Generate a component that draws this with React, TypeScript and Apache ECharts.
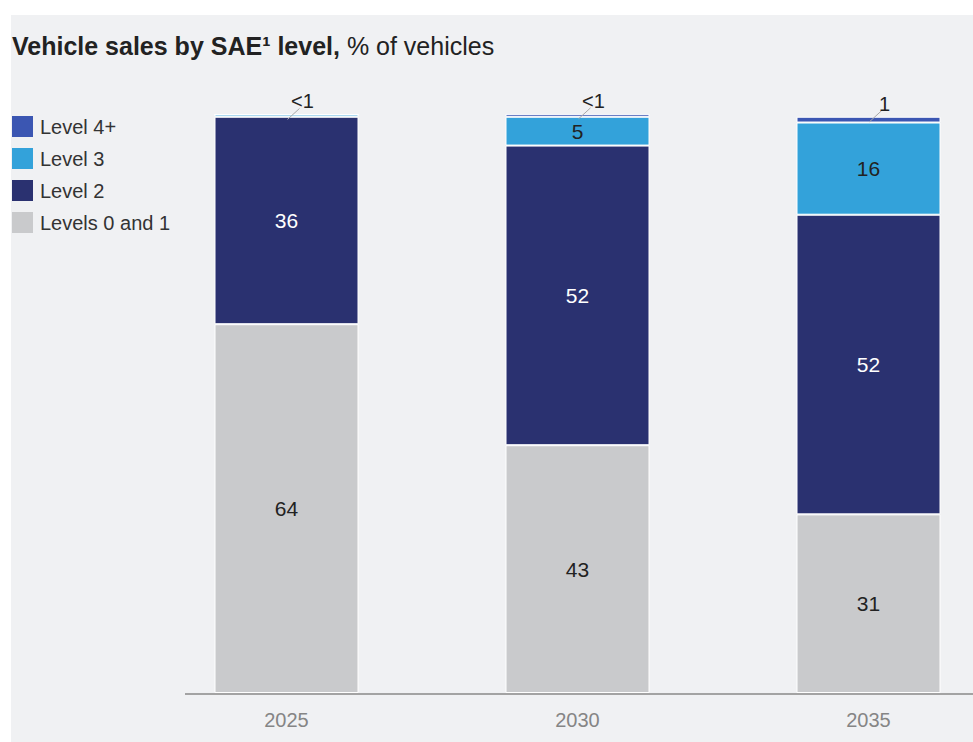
import React, { useEffect, useRef } from "react";
import * as echarts from "echarts";

const years = ["2025", "2030", "2035"];
const levels01 = [64, 43, 31];
const level2 = [36, 52, 52];
const level3 = [0.4, 5, 16];
const level4 = [0, 0.5, 1];
const topLabels = ["<1", "<1", "1"];

const seriesNames = ["Levels 0 and 1", "Level 2", "Level 3", "Level 4+"];
const colors = ["#c9cacc", "#2a3170", "#33a2da", "#3b56b2"];
const labelColors = ["#222222", "#ffffff", "#222222", "#222222"];

const FONT = "'Liberation Sans', Arial, sans-serif";

export default function App() {
  const ref = useRef<HTMLDivElement>(null);
  useEffect(() => {
    if (!ref.current) return;
    const chart = echarts.init(ref.current, undefined, { renderer: "svg" });
    const dataSets = [levels01, level2, level3, level4];
    const totals = years.map((_, i) => dataSets.reduce((s, d) => s + d[i], 0));

    const barSeries = dataSets.map((d, si) => ({
      name: seriesNames[si],
      type: "bar",
      stack: "total",
      barWidth: 144,
      data: d,
      itemStyle: { color: colors[si], borderColor: "#ffffff", borderWidth: 1 },
      label: {
        show: true,
        position: "inside",
        fontFamily: FONT,
        fontSize: 21,
        color: labelColors[si],
        formatter: (p: any) => (p.value >= 2 ? String(Math.round(p.value)) : ""),
      },
      emphasis: { disabled: true },
    }));

    const annotation = {
      type: "custom",
      name: "annot",
      data: years.map((_, i) => [i, totals[i], topLabels[i]]),
      encode: { x: 0, y: 1 },
      z: 10,
      renderItem: (params: any, api: any) => {
        const idx = params.dataIndex;
        const pt = api.coord([api.value(0), api.value(1)]);
        const x0 = pt[0] + 1;
        const y0 = pt[1] + 5;
        return {
          type: "group",
          children: [
            {
              type: "line",
              shape: { x1: x0, y1: y0, x2: x0 + 12, y2: y0 - 11 },
              style: { stroke: "#a8a8a8", lineWidth: 1 },
            },
            {
              type: "text",
              x: x0 + 15,
              y: y0 - 8,
              style: {
                text: topLabels[idx],
                fontFamily: FONT,
                fontSize: 20,
                fill: "#222222",
                align: "center",
                verticalAlign: "bottom",
              },
            },
          ],
        };
      },
    };

    chart.setOption({
      animation: false,
      backgroundColor: "#ffffff",
      graphic: [
        {
          type: "rect",
          shape: { x: 11, y: 15, width: 1100, height: 727 },
          style: { fill: "#f0f1f3" },
          z: -10,
          silent: true,
        },
        {
          type: "line",
          shape: { x1: 185, y1: 694, x2: 1100, y2: 694 },
          style: { stroke: "#a3a3a3", lineWidth: 2 },
          z: 5,
          silent: true,
        },
      ],
      title: {
        left: 7,
        top: 28,
        text: "{b|Vehicle sales by SAE¹ level,}{r| % of vehicles}",
        textStyle: {
          rich: {
            b: { fontFamily: FONT, fontSize: 25, fontWeight: "bold", color: "#222222" },
            r: { fontFamily: FONT, fontSize: 25, fontWeight: "normal", color: "#222222" },
          },
        },
      },
      legend: {
        orient: "vertical",
        left: 7,
        top: 111,
        itemWidth: 21,
        itemHeight: 21,
        itemGap: 11,
        icon: "rect",
        selectedMode: false,
        itemStyle: { borderWidth: 0 },
        data: ["Level 4+", "Level 3", "Level 2", "Levels 0 and 1"],
        textStyle: {
          fontFamily: FONT,
          fontSize: 20,
          lineHeight: 21,
          color: "#333333",
          padding: [0, 0, 0, 2],
        },
      },
      grid: { left: 141, width: 873, top: 111, height: 582 },
      xAxis: {
        type: "category",
        data: years,
        axisLine: { show: false },
        axisTick: { show: false },
        axisLabel: { fontFamily: FONT, fontSize: 20, color: "#858585", margin: 17 },
      },
      yAxis: {
        type: "value",
        min: 0,
        max: 101,
        show: false,
        splitLine: { show: false },
      },
      series: [...barSeries, annotation],
    });
    return () => chart.dispose();
  }, []);
  return (
    <div
      style={{
        position: "absolute",
        left: 0,
        top: 0,
        width: 973,
        height: 742,
        overflow: "hidden",
        background: "#ffffff",
      }}
    >
      <div ref={ref} style={{ width: 1100, height: 742 }} />
    </div>
  );
}
